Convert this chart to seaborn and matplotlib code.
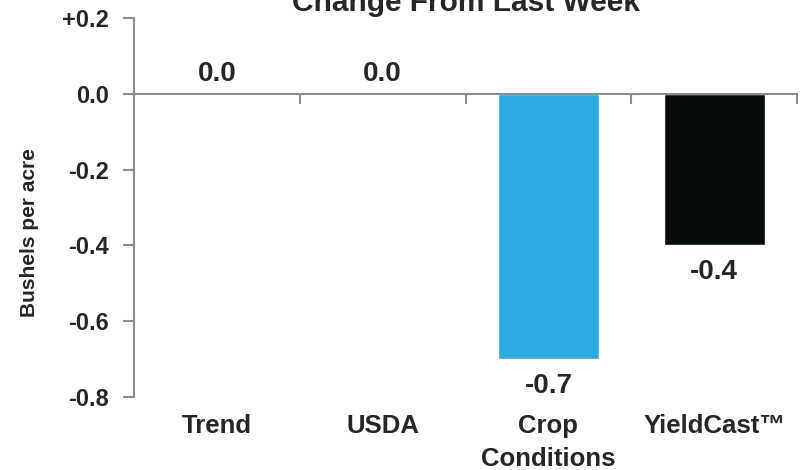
import numpy as np
import matplotlib
matplotlib.use("Agg")
import matplotlib.pyplot as plt
import matplotlib.ticker as mticker
import seaborn as sns

categories = ["Trend", "USDA", "Crop\nConditions", "YieldCast\u2122"]
values = [0.0, 0.0, -0.7, -0.4]
bar_colors = ["#29ABE2", "#29ABE2", "#29ABE2", "#050A0A"]
yticks = [-0.8, -0.6, -0.4, -0.2, 0.0, 0.2]

sns.set_style("white")
plt.rcParams["font.family"] = ["Liberation Sans", "DejaVu Sans"]
plt.rcParams["font.weight"] = "bold"
text_color = "#262626"
axis_color = "#8C8C8C"

fig = plt.figure(figsize=(8.06, 4.70), dpi=100)
ax = fig.add_axes([134 / 806, 1 - 397 / 470, 663 / 806, 379 / 470])

sns.barplot(x=categories, y=values, hue=categories, palette=bar_colors,
            width=0.61, legend=False, ax=ax, saturation=1)

ax.set_xlim(-0.5, 3.5)
ax.set_ylim(-0.8, 0.2)
ax.set_yticks(yticks)
ax.yaxis.set_major_formatter(mticker.FuncFormatter(
    lambda v, p: ("+%.1f" % v) if v > 0.01 else ("%.1f" % v).replace("-0.0", "0.0")))
ax.tick_params(axis="y", direction="out", length=8, width=1.5, color=axis_color,
               pad=10, labelsize=17, labelcolor=text_color, left=True)

# horizontal axis sits on zero, with ticks between the categories
for s in ["top", "right"]:
    ax.spines[s].set_visible(False)
ax.spines["left"].set_color(axis_color)
ax.spines["left"].set_linewidth(1.5)
ax.spines["bottom"].set_position(("data", 0))
ax.spines["bottom"].set_color(axis_color)
ax.spines["bottom"].set_linewidth(1.5)
ax.set_xticks(np.arange(len(categories)))
ax.set_xticklabels([])
ax.set_xticks(np.arange(len(categories)) + 0.5, minor=True)
ax.tick_params(axis="x", which="major", length=0)
ax.tick_params(axis="x", which="minor", direction="out", length=7, width=1.5,
               color=axis_color, bottom=True)

trans = matplotlib.transforms.blended_transform_factory(ax.transData, ax.transAxes)
for i, cat in enumerate(categories):
    ax.text(i, -0.045, cat, transform=trans, ha="center", va="top",
            fontsize=18.5, fontweight="bold", color=text_color, linespacing=1.45)

for i, v in enumerate(values):
    if v >= 0:
        ax.annotate("%.1f" % v, (i, v), xytext=(0, 9), textcoords="offset points",
                    ha="center", va="baseline", fontsize=20, fontweight="bold",
                    color=text_color)
    else:
        ax.annotate("%.1f" % v, (i, v), xytext=(0, -10), textcoords="offset points",
                    ha="center", va="top", fontsize=20, fontweight="bold",
                    color=text_color)

ax.set_ylabel("Bushels per acre", fontsize=15, fontweight="bold", color=text_color)
ax.yaxis.set_label_coords(-0.143, 0.435)
ax.text(0.5, 1.019, "Change From Last Week", transform=ax.transAxes, ha="center",
        va="baseline", fontsize=21.5, fontweight="bold", color=text_color)

fig.savefig("out.png", dpi=100)
